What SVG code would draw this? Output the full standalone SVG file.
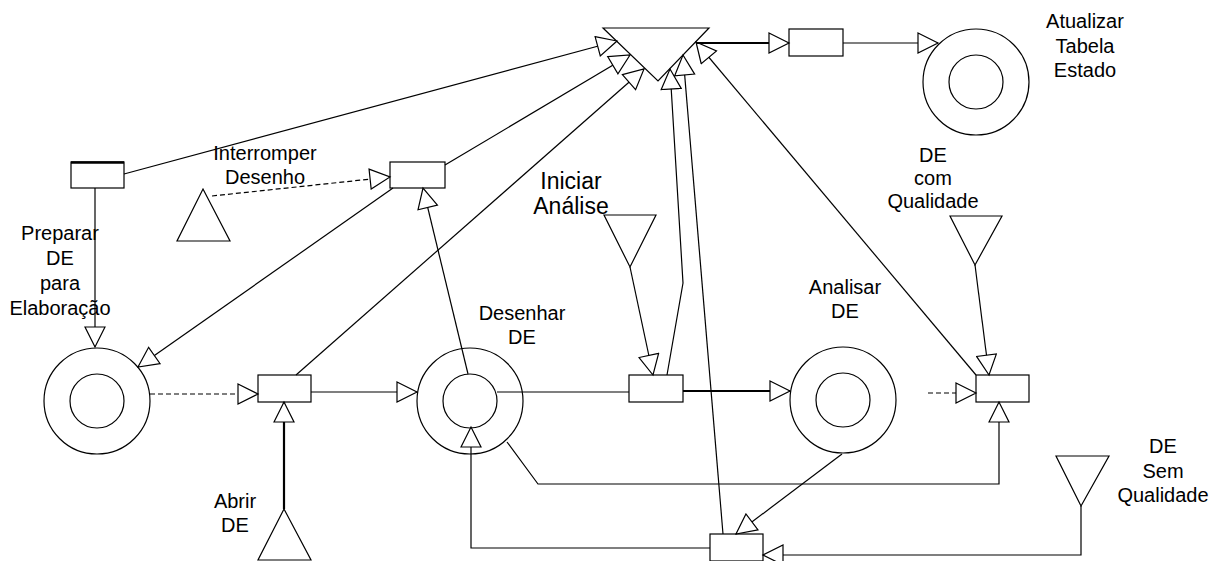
<svg xmlns="http://www.w3.org/2000/svg" width="1225" height="561" viewBox="0 0 1225 561">
<style>
.n{fill:#fff;stroke:#000;stroke-width:1.2}
.t{font-family:"Liberation Sans",Arial,sans-serif;font-size:20px;fill:#000;text-anchor:middle}
.big{font-size:23px}
.c{fill:none;stroke:#000;stroke-width:1.2}
.thick{stroke-width:2.2}
.dash{stroke-dasharray:5 3}
.a{marker-end:url(#arr)}
</style>
<defs>
<marker id="arr" markerUnits="userSpaceOnUse" viewBox="-1 -1 23 22" markerWidth="23" markerHeight="22" refX="20" refY="10" orient="auto">
<path d="M0,0 L20,10 L0,20 Z" fill="#fff" stroke="#000" stroke-width="1.2"/>
</marker>
</defs>
<rect width="1225" height="561" fill="#fff"/>

<g id="t-preparar">
<rect class="n" x="71" y="162" width="53" height="26"/>
<line x1="71" y1="162.5" x2="124" y2="162.5" stroke="#000" stroke-width="2.5"/>
<text class="t" x="60" y="240">Preparar</text>
<text class="t" x="60" y="265">DE</text>
<text class="t" x="60" y="290">para</text>
<text class="t" x="60" y="315">Elaboração</text>
</g>
<g id="t-interromper">
<rect class="n" x="390" y="162" width="55" height="26"/>
</g>
<g id="s-interromper">
<polygon class="n" points="203,189 230,241 177,241"/>
<text class="t" x="265" y="160">Interromper</text>
<text class="t" x="265" y="184">Desenho</text>
</g>
<g id="p-elaboracao">
<circle class="n" cx="97" cy="401" r="53"/>
<circle class="n" cx="97" cy="401" r="27"/>
</g>
<g id="t-abrir">
<rect class="n" x="258" y="375" width="53" height="27"/>
</g>
<g id="s-abrir">
<polygon class="n" points="284,509 311,560 258,560"/>
<text class="t" x="235" y="508">Abrir</text>
<text class="t" x="235" y="532">DE</text>
</g>
<g id="p-desenhar">
<circle class="n" cx="470" cy="401" r="53"/>
<circle class="n" cx="470" cy="401" r="27"/>
<text class="t" x="522" y="320">Desenhar</text>
<text class="t" x="522" y="344">DE</text>
</g>
<g id="s-iniciar">
<polygon class="n" points="604,215 656,215 630,267"/>
<text class="t big" x="571" y="189">Iniciar</text>
<text class="t big" x="571" y="214">Análise</text>
</g>
<g id="t-iniciar">
<rect class="n" x="629" y="375" width="54" height="27"/>
</g>
<g id="p-analisar">
<circle class="n" cx="843" cy="400" r="53"/>
<circle class="n" cx="843" cy="400" r="27"/>
<text class="t" x="845" y="294">Analisar</text>
<text class="t" x="845" y="318">DE</text>
</g>
<g id="s-com-qualidade">
<polygon class="n" points="950,216 1002,216 975,265"/>
<text class="t" x="933" y="162">DE</text>
<text class="t" x="933" y="185">com</text>
<text class="t" x="933" y="208">Qualidade</text>
</g>
<g id="t-qualidade">
<rect class="n" x="976" y="375" width="53" height="27"/>
</g>
<g id="s-sem-qualidade">
<polygon class="n" points="1056,456 1109,456 1081,506"/>
<text class="t" x="1163" y="453">DE</text>
<text class="t" x="1163" y="478">Sem</text>
<text class="t" x="1163" y="502">Qualidade</text>
</g>
<g id="t-sem-qualidade">
<rect class="n" x="710" y="534" width="53" height="27"/>
</g>
<g id="j-juncao">
<polygon class="n" points="603,28 709,28 658,81"/>
</g>
<g id="t-atualizar">
<rect class="n" x="789" y="29" width="54" height="27"/>
</g>
<g id="p-atualizar">
<circle class="n" cx="976" cy="82" r="53"/>
<circle class="n" cx="976" cy="82" r="27"/>
<text class="t" x="1085" y="28">Atualizar</text>
<text class="t" x="1085" y="53">Tabela</text>
<text class="t" x="1085" y="77">Estado</text>
</g>

<g id="connectors">
<line class="c a" x1="124" y1="174" x2="617" y2="41"/>
<line class="c a" x1="95" y1="188" x2="95" y2="347"/>
<line class="c a dash" x1="212" y1="196" x2="390" y2="177"/>
<line class="c a" x1="445" y1="165" x2="630" y2="55"/>
<line class="c a" x1="393" y1="188" x2="138" y2="367"/>
<line class="c a dash" x1="150" y1="394" x2="258" y2="394"/>
<line class="c a thick" x1="284" y1="509" x2="284" y2="402"/>
<line class="c a" x1="296" y1="375" x2="644" y2="69"/>
<line class="c a" x1="311" y1="392" x2="417" y2="392"/>
<line class="c a" x1="468" y1="374" x2="423" y2="188"/>
<line class="c" x1="497" y1="392" x2="629" y2="392"/>
<line class="c a" x1="630" y1="267" x2="653" y2="375"/>
<polyline class="c a" points="667,375 683,283 670,69"/>
<line class="c a thick" x1="683" y1="391" x2="790" y2="391"/>
<line class="c a dash" x1="928" y1="393" x2="976" y2="393"/>
<line class="c a" x1="975" y1="265" x2="989" y2="375"/>
<line class="c a" x1="976" y1="375" x2="696" y2="42"/>
<polyline class="c a" points="507,442 538,484 999,484 999,402"/>
<line class="c a" x1="842" y1="454" x2="736" y2="534"/>
<polyline class="c a" points="1081,506 1081,555 763,555"/>
<line class="c a" x1="723" y1="534" x2="683" y2="55"/>
<polyline class="c a" points="710,548 471,548 471,427"/>
<line class="c a thick" x1="697" y1="43" x2="789" y2="43"/>
<line class="c a" x1="843" y1="43" x2="938" y2="43"/>
</g>
</svg>
